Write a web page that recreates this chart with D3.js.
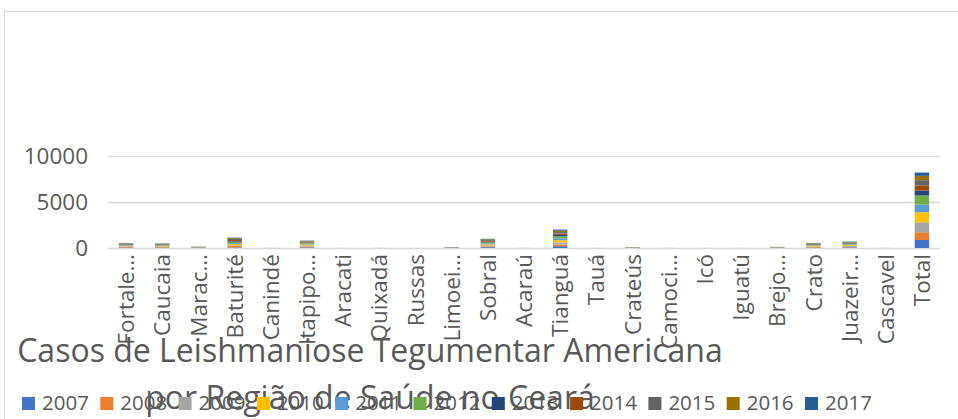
<!DOCTYPE html>
<html>
<head>
<meta charset="utf-8">
<script src="https://cdn.jsdelivr.net/npm/d3@7"></script>
<style>
  html, body { margin: 0; padding: 0; background: #fff; }
  svg { display: block; }
  text { font-family: "Open Sans", sans-serif; fill: #595959; }
</style>
</head>
<body>
<svg id="chart" width="958" height="419"></svg>
<script>
const categories = ["Fortaleza","Caucaia","Maracanaú","Baturité","Canindé","Itapipoca","Aracati","Quixadá","Russas","Limoeiro","Sobral","Acaraú","Tianguá","Tauá","Crateús","Camocim","Icó","Iguatú","Brejo Santo","Crato","Juazeiro","Cascavel","Total"];
const categoryLabels = ["Fortale…","Caucaia","Marac…","Baturité","Canindé","Itapipo…","Aracati","Quixadá","Russas","Limoei…","Sobral","Acaraú","Tianguá","Tauá","Crateús","Camoci…","Icó","Iguatú","Brejo…","Crato","Juazeir…","Cascavel","Total"];
const years = ["2007","2008","2009","2010","2011","2012","2013","2014","2015","2016","2017"];
const colors = ["#4472C4","#ED7D31","#A5A5A5","#FFC000","#5B9BD5","#70AD47","#264478","#9E480E","#636363","#997300","#255E91"];
const yTicks = [0, 5000, 10000];
const titleLines = ["Casos de Leishmaniose Tegumentar Americana", "por Região de Saúde no Ceará"];

const v2007 = [60,50,15,60,1,70,0,1,0,10,90,1,200,0,10,1,0,0,12,50,70,1,870];
const v2008 = [50,50,15,150,1,90,1,1,1,10,80,1,180,1,10,1,1,1,12,50,60,1,840];
const v2009 = [60,60,15,80,1,100,0,1,0,10,120,1,220,0,10,1,0,0,12,60,90,1,1090];
const v2010 = [60,50,15,160,1,120,1,1,1,10,110,1,250,1,10,1,1,1,12,60,100,1,1090];
const v2011 = [70,50,15,90,1,80,0,1,0,10,100,1,200,0,10,1,0,0,12,50,70,1,840];
const v2012 = [60,60,15,150,1,90,1,1,1,10,110,1,230,1,10,1,1,1,12,60,70,1,980];
const v2013 = [40,40,12,80,1,50,0,1,0,10,80,1,150,0,10,1,0,0,10,50,50,1,540];
const v2014 = [40,40,12,100,1,50,1,1,1,10,80,1,140,1,10,1,1,1,10,40,50,1,540];
const v2015 = [40,40,12,110,1,60,0,1,0,8,90,1,160,0,8,1,0,0,10,50,60,1,580];
const v2016 = [30,30,12,90,1,50,1,1,1,6,80,1,150,1,6,1,1,1,9,40,40,1,470];
const v2017 = [30,30,12,60,1,40,0,1,0,6,60,1,120,0,6,1,0,0,9,40,40,1,360];
const seriesValues = [v2007,v2008,v2009,v2010,v2011,v2012,v2013,v2014,v2015,v2016,v2017];

(function () {
const rows = categories.map((c, i) => {
  const r = { cat: c };
  years.forEach((yr, j) => { r[yr] = seriesValues[j][i]; });
  return r;
});

const svg = d3.select("#chart");

// chart border
svg.append("rect").attr("x", 4.5).attr("y", 11.5).attr("width", 1000).attr("height", 500)
  .attr("fill", "none").attr("stroke", "#d9d9d9").attr("stroke-width", 1);

const plotLeft = 108, plotRight = 940, plotTop = 156, plotBottom = 248;
const x = d3.scaleBand().domain(categories).range([plotLeft, plotRight]).paddingInner(0.6).paddingOuter(0.3);
const y = d3.scaleLinear().domain([0, 10000]).range([plotBottom, plotTop]);

// gridlines
svg.append("g").selectAll("line").data(yTicks).join("line")
  .attr("x1", plotLeft).attr("x2", plotRight)
  .attr("y1", d => Math.round(y(d)) + 0.5).attr("y2", d => Math.round(y(d)) + 0.5)
  .attr("stroke", "#d9d9d9").attr("stroke-width", 1.3);

// y tick labels
svg.append("g").selectAll("text").data(yTicks).join("text")
  .attr("x", 88).attr("y", d => y(d)).attr("dy", "0.36em")
  .attr("text-anchor", "end").style("font-size", "22.5px")
  .text(d => d);

// stacked bars
const layers = d3.stack().keys(years)(rows);
svg.append("g").selectAll("g").data(layers).join("g")
  .attr("fill", (d, i) => colors[i])
  .selectAll("rect").data(d => d).join("rect")
  .attr("x", d => x(d.data.cat))
  .attr("width", x.bandwidth())
  .attr("y", d => y(d[1]))
  .attr("height", d => Math.max(0, y(d[0]) - y(d[1])));

// category labels
svg.append("g").selectAll("text").data(categories).join("text")
  .attr("transform", d => `translate(${x(d) + x.bandwidth() / 2},254) rotate(-90)`)
  .attr("dy", "0.36em").attr("text-anchor", "end")
  .style("font-size", "22.5px")
  .text((d, i) => categoryLabels[i]);

// title
const t1 = svg.append("text").attr("x", 370).attr("y", 362).attr("text-anchor", "middle")
  .style("font-size", "32px").text(titleLines[0]);
const w = t1.node().getComputedTextLength();
const fs = 32 * 706 / w;
t1.style("font-size", fs + "px");
svg.append("text").attr("x", 370).attr("y", 409).attr("text-anchor", "middle")
  .style("font-size", fs + "px").text(titleLines[1]);

// legend
const lg = svg.append("g").selectAll("g").data(years).join("g")
  .attr("transform", (d, i) => `translate(${22 + i * 78.3},397)`);
lg.append("rect").attr("width", 13).attr("height", 13).attr("fill", (d, i) => colors[i]);
lg.append("text").attr("x", 20).attr("y", 13).style("font-size", "20.5px").text(d => d);
})();
</script>
</body>
</html>
